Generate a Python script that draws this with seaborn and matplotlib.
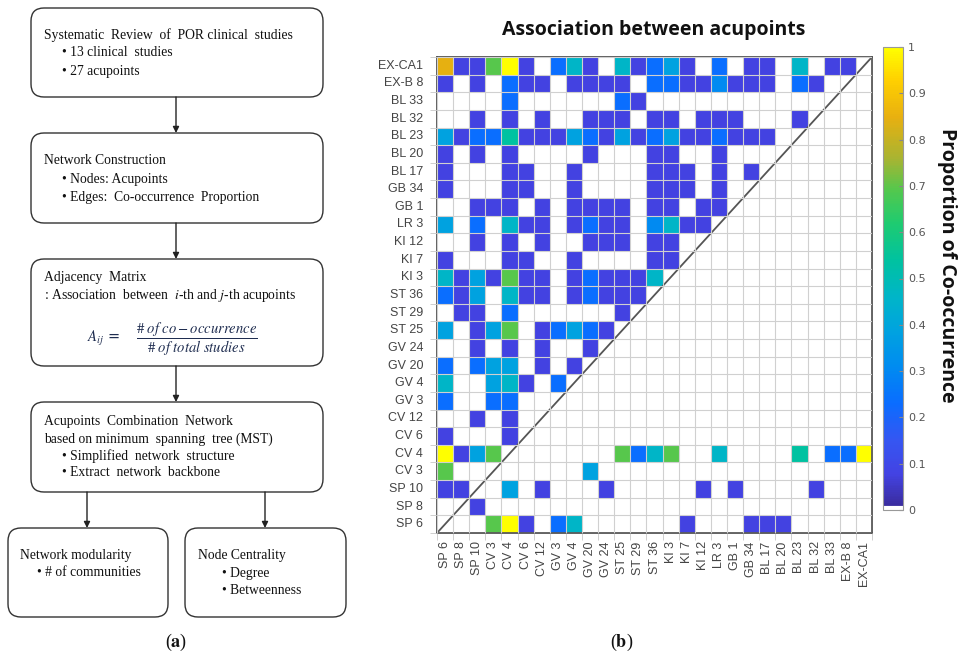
import matplotlib
matplotlib.use('Agg')
import matplotlib.pyplot as plt
from matplotlib.colors import LinearSegmentedColormap
from matplotlib.patches import FancyBboxPatch
import numpy as np
import pandas as pd
import seaborn as sns

# acupoints, left to right on the x axis (rows are the same list reversed)
acupoints = ['SP 6', 'SP 8', 'SP 10', 'CV 3', 'CV 4', 'CV 6', 'CV 12', 'GV 3', 'GV 4',
             'GV 20', 'GV 24', 'ST 25', 'ST 29', 'ST 36', 'KI 3', 'KI 7', 'KI 12', 'LR 3',
             'GB 1', 'GB 34', 'BL 17', 'BL 20', 'BL 23', 'BL 32', 'BL 33', 'EX-B 8', 'EX-CA1']
row_labels = acupoints[::-1]
n_studies = 13

# number of studies in which both acupoints occur (rows top -> bottom)
co_counts = [
    [11, 1, 1, 9, 13, 1, 0, 3, 6, 1, 0, 6, 1, 3, 5, 1, 0, 3, 0, 1, 1, 0, 6, 0, 1, 1, 0],  # EX-CA1
    [1, 0, 1, 0, 3, 1, 1, 0, 1, 1, 1, 1, 0, 3, 3, 1, 1, 4, 1, 1, 1, 0, 3, 1, 0, 0, 0],    # EX-B 8
    [0, 0, 0, 0, 3, 0, 0, 0, 0, 0, 0, 3, 1, 0, 0, 0, 0, 0, 0, 0, 0, 0, 0, 0, 0, 0, 0],    # BL 33
    [0, 0, 1, 0, 1, 0, 1, 0, 0, 1, 1, 1, 0, 1, 1, 0, 1, 1, 1, 0, 0, 0, 1, 0, 0, 0, 0],    # BL 32
    [5, 1, 3, 3, 7, 1, 1, 1, 5, 3, 1, 5, 1, 3, 5, 1, 1, 3, 1, 1, 1, 0, 0, 0, 0, 0, 0],    # BL 23
    [1, 0, 1, 0, 1, 0, 0, 0, 0, 1, 0, 0, 0, 1, 1, 0, 0, 1, 0, 0, 0, 0, 0, 0, 0, 0, 0],    # BL 20
    [1, 0, 0, 0, 1, 1, 0, 0, 1, 0, 0, 0, 0, 1, 1, 1, 0, 1, 0, 1, 0, 0, 0, 0, 0, 0, 0],    # BL 17
    [1, 0, 0, 0, 1, 1, 0, 0, 1, 0, 0, 0, 0, 1, 1, 1, 0, 1, 0, 0, 0, 0, 0, 0, 0, 0, 0],    # GB 34
    [0, 0, 1, 1, 1, 0, 1, 0, 1, 1, 1, 1, 0, 1, 1, 0, 1, 1, 0, 0, 0, 0, 0, 0, 0, 0, 0],    # GB 1
    [5, 0, 3, 0, 6, 1, 1, 0, 1, 3, 1, 1, 0, 4, 6, 1, 1, 0, 0, 0, 0, 0, 0, 0, 0, 0, 0],    # LR 3
    [0, 0, 1, 0, 1, 0, 1, 0, 0, 1, 1, 1, 0, 1, 1, 0, 0, 0, 0, 0, 0, 0, 0, 0, 0, 0, 0],    # KI 12
    [1, 0, 0, 0, 1, 1, 0, 0, 1, 0, 0, 0, 0, 1, 1, 0, 0, 0, 0, 0, 0, 0, 0, 0, 0, 0, 0],    # KI 7
    [6, 1, 5, 1, 9, 1, 1, 0, 1, 3, 1, 1, 1, 6, 0, 0, 0, 0, 0, 0, 0, 0, 0, 0, 0, 0, 0],    # KI 3
    [3, 1, 5, 0, 6, 1, 1, 0, 1, 3, 1, 1, 1, 0, 0, 0, 0, 0, 0, 0, 0, 0, 0, 0, 0, 0, 0],    # ST 36
    [0, 1, 1, 0, 3, 0, 0, 0, 0, 0, 0, 1, 0, 0, 0, 0, 0, 0, 0, 0, 0, 0, 0, 0, 0, 0, 0],    # ST 29
    [5, 0, 1, 5, 9, 0, 1, 3, 5, 3, 1, 0, 0, 0, 0, 0, 0, 0, 0, 0, 0, 0, 0, 0, 0, 0, 0],    # ST 25
    [0, 0, 1, 0, 1, 0, 1, 0, 0, 1, 0, 0, 0, 0, 0, 0, 0, 0, 0, 0, 0, 0, 0, 0, 0, 0, 0],    # GV 24
    [3, 0, 3, 5, 5, 0, 1, 0, 1, 0, 0, 0, 0, 0, 0, 0, 0, 0, 0, 0, 0, 0, 0, 0, 0, 0, 0],    # GV 20
    [6, 0, 0, 5, 6, 1, 0, 3, 0, 0, 0, 0, 0, 0, 0, 0, 0, 0, 0, 0, 0, 0, 0, 0, 0, 0, 0],    # GV 4
    [3, 0, 0, 3, 3, 0, 0, 0, 0, 0, 0, 0, 0, 0, 0, 0, 0, 0, 0, 0, 0, 0, 0, 0, 0, 0, 0],    # GV 3
    [0, 0, 1, 0, 1, 0, 0, 0, 0, 0, 0, 0, 0, 0, 0, 0, 0, 0, 0, 0, 0, 0, 0, 0, 0, 0, 0],    # CV 12
    [1, 0, 0, 0, 1, 0, 0, 0, 0, 0, 0, 0, 0, 0, 0, 0, 0, 0, 0, 0, 0, 0, 0, 0, 0, 0, 0],    # CV 6
    [13, 1, 5, 9, 0, 0, 0, 0, 0, 0, 0, 9, 3, 6, 9, 0, 0, 6, 0, 0, 0, 0, 7, 0, 3, 3, 13],  # CV 4
    [9, 0, 0, 0, 0, 0, 0, 0, 0, 5, 0, 0, 0, 0, 0, 0, 0, 0, 0, 0, 0, 0, 0, 0, 0, 0, 0],    # CV 3
    [1, 1, 0, 0, 5, 0, 1, 0, 0, 0, 1, 0, 0, 0, 0, 0, 1, 0, 1, 0, 0, 0, 0, 1, 0, 0, 0],    # SP 10
    [0, 0, 1, 0, 0, 0, 0, 0, 0, 0, 0, 0, 0, 0, 0, 0, 0, 0, 0, 0, 0, 0, 0, 0, 0, 0, 0],    # SP 8
    [0, 0, 0, 9, 13, 1, 0, 3, 6, 0, 0, 0, 0, 0, 0, 1, 0, 0, 0, 1, 1, 1, 0, 0, 0, 0, 0],   # SP 6
]

df = pd.DataFrame(np.array(co_counts) / n_studies, index=row_labels, columns=acupoints)

# parula-like colour scale
cmap = LinearSegmentedColormap.from_list('parula_like', [
    (0.0, '#ffffff'), (0.006, '#ffffff'), (0.008, '#3a2c9e'), (0.077, '#4343e3'),
    (0.15, '#3556f2'), (0.23, '#0a6dff'), (0.31, '#008cf0'), (0.385, '#00a2e0'),
    (0.46, '#00b5c8'), (0.54, '#00c2a0'), (0.62, '#1fcb70'), (0.69, '#52c84e'),
    (0.76, '#a8b432'), (0.85, '#e8b010'), (0.93, '#ffd000'), (1.0, '#ffff00')])

fig = plt.figure(figsize=(9.66, 6.64), dpi=100)
W, H = 966, 664

# ---------------- (b) heatmap ----------------
ax = fig.add_axes([437 / W, 1 - 533 / H, 435 / W, 476 / H])
cax = fig.add_axes([883 / W, 1 - 510 / H, 20 / W, 463 / H])
sns.heatmap(df, mask=(df == 0), cmap=cmap, vmin=0, vmax=1, ax=ax, cbar_ax=cax,
            xticklabels=True, yticklabels=True)

n = len(acupoints)
ax.set_xticks(np.arange(n + 1), minor=True)
ax.set_yticks(np.arange(n + 1), minor=True)
ax.grid(which='minor', color='#d0d0d0', lw=0.8)
ax.grid(which='major', visible=False)
ax.set_axisbelow(False)
ax.tick_params(which='major', length=0, labelsize=9, labelcolor='#444444', pad=10)
ax.tick_params(which='minor', length=5, color='#c8c8c8')
ax.set_xticklabels(acupoints, rotation=90, family='Liberation Sans')
ax.set_yticklabels(row_labels, rotation=0, family='Liberation Sans')
ax.tick_params(axis='x', which='major', pad=6)
ax.set_xlabel('')
ax.set_ylabel('')
ax.plot([0, n], [n, 0], color='#555555', lw=1.3)
for sp in ax.spines.values():
    sp.set_visible(True)
    sp.set_color('#555555')
    sp.set_linewidth(1.3)

cbar = ax.collections[0].colorbar
cbar.set_ticks(np.round(np.arange(0, 1.01, 0.1), 1))
cbar.set_ticklabels(['0', '0.1', '0.2', '0.3', '0.4', '0.5', '0.6', '0.7', '0.8', '0.9', '1'])
cbar.ax.tick_params(labelsize=8, labelcolor='#555555', color='#888888', length=3, direction='in')
cbar.outline.set_edgecolor('#999999')
cbar.outline.set_linewidth(0.8)

fig.text(654 / W, 1 - 30 / H, 'Association between acupoints', ha='center', va='center',
         fontsize=14, fontweight='bold', family='Open Sans', color='#111111')
fig.text(947 / W, 1 - 265 / H, 'Proportion of Co-occurrence', ha='center', va='center',
         rotation=-90, fontsize=14, fontweight='bold', family='Open Sans', color='#111111')

# ---------------- (a) flow chart ----------------
plt.rcParams['mathtext.fontset'] = 'stix'
fa = fig.add_axes([0, 0, 1, 1], zorder=-1)
fa.set_xlim(0, W)
fa.set_ylim(H, 0)
fa.axis('off')

boxes = [(31, 8, 323, 97), (31, 133, 323, 223), (31, 259, 323, 366),
         (31, 402, 323, 492), (8, 528, 168, 617), (185, 528, 346, 617)]
for x0, y0, x1, y1 in boxes:
    fa.add_patch(FancyBboxPatch((x0, y0), x1 - x0, y1 - y0,
                                boxstyle='round,pad=0,rounding_size=13',
                                fc='white', ec='#333333', lw=1.0))

arrows = [(176, 97, 133), (176, 223, 259), (176, 366, 402), (87, 492, 528), (265, 492, 528)]
for x, ya, yb in arrows:
    fa.annotate('', xy=(x, yb), xytext=(x, ya),
                arrowprops=dict(arrowstyle='-|>', color='#222222', lw=1.0,
                                mutation_scale=9, shrinkA=0, shrinkB=0))

serif = dict(family='Liberation Serif', fontsize=9.8, color='#111111', va='center', ha='left')
flow_text = [
    (44, 35, 'Systematic  Review  of  POR clinical  studies'),
    (62, 53, '• 13 clinical  studies'),
    (62, 71, '• 27 acupoints'),
    (44, 161, 'Network Construction'),
    (62, 179, '• Nodes: Acupoints'),
    (62, 197, '• Edges:  Co-occurrence  Proportion'),
    (44, 277, 'Adjacency  Matrix'),
    (44, 295, r': Association  between  $i$-th and $j$-th acupoints'),
    (44, 421, 'Acupoints  Combination  Network'),
    (44, 439, 'based on minimum  spanning  tree (MST)'),
    (62, 456, '• Simplified  network  structure'),
    (62, 473, '• Extract  network  backbone'),
    (20, 555, 'Network modularity'),
    (37, 573, '• # of communities'),
    (198, 555, 'Node Centrality'),
    (222, 573, '• Degree'),
    (222, 590, '• Betweenness'),
]
for x, y, s in flow_text:
    fa.text(x, y, s, **serif)

fa.text(87, 339, r'$A_{ij}$ =', fontsize=10.5, color='#1f2d50', ha='left', va='center')
fa.text(197, 339, r'$\dfrac{\#\ of\ co-occurrence}{\#\ of\ total\ studies}$',
        fontsize=10.5, color='#1f2d50', ha='center', va='center')

fa.text(176, 642, r'($\mathbf{a}$)', fontsize=13, family='Liberation Serif',
        ha='center', va='center', color='#111111')
fa.text(622, 642, r'($\mathbf{b}$)', fontsize=13, family='Liberation Serif',
        ha='center', va='center', color='#111111')

fig.savefig('out.png', dpi=100)
